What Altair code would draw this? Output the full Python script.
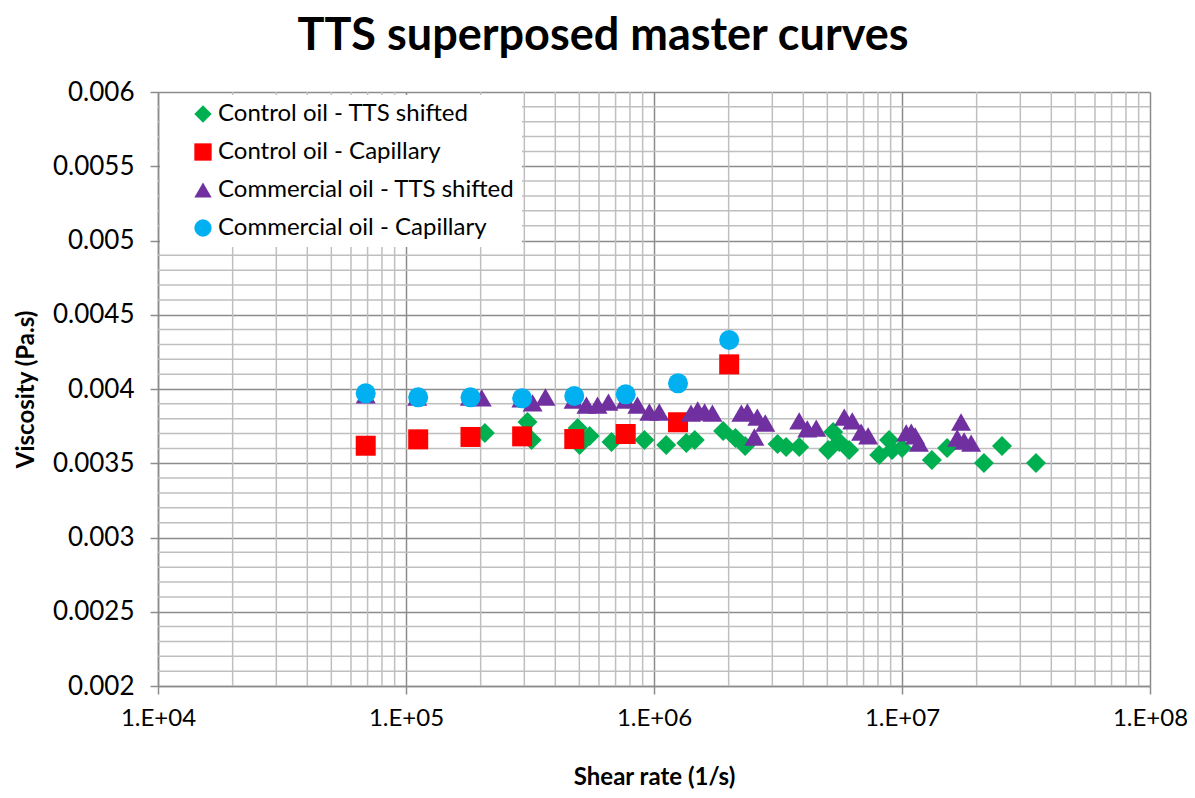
import altair as alt
import pandas as pd

series_names = ["Control oil - TTS shifted", "Control oil - Capillary",
                "Commercial oil - TTS shifted", "Commercial oil - Capillary"]
series_colors = ["#00B050", "#FF0000", "#7030A0", "#00B0F0"]
series_shapes = ["diamond", "square", "triangle-up", "circle"]

# Control oil - TTS shifted
ctrl_tts_x = [2.08e5, 3.09e5, 3.21e5, 4.92e5, 5.01e5, 5.50e5, 6.74e5, 9.15e5, 1.12e6, 1.35e6,
              1.46e6, 1.90e6, 2.13e6, 2.33e6, 3.15e6, 3.41e6, 3.85e6, 5.04e6, 5.28e6, 5.58e6,
              6.12e6, 8.09e6, 8.87e6, 9.12e6, 1.00e7, 1.32e7, 1.52e7, 2.14e7, 2.53e7, 3.47e7]
ctrl_tts_y = [0.003704, 0.003778, 0.003657, 0.003737, 0.003623, 0.003684, 0.003643, 0.003657,
              0.003623, 0.003636, 0.003657, 0.003717, 0.003670, 0.003616, 0.003630, 0.003609,
              0.003609, 0.003589, 0.003710, 0.003643, 0.003589, 0.003556, 0.003657, 0.003589,
              0.003603, 0.003522, 0.003603, 0.003502, 0.003616, 0.003502]

# Control oil - Capillary
ctrl_cap_x = [6.88e4, 1.12e5, 1.82e5, 2.94e5, 4.77e5, 7.69e5, 1.25e6, 2.01e6]
ctrl_cap_y = [0.003618, 0.003661, 0.003677, 0.003681, 0.003663, 0.003697, 0.003776, 0.004166]

# Commercial oil - TTS shifted
comm_tts_x = [6.88e4, 1.11e5, 1.81e5, 2.02e5, 2.92e5, 3.24e5, 3.65e5, 4.74e5, 5.34e5, 5.92e5,
              6.55e5, 7.67e5, 8.57e5, 9.58e5, 1.05e6, 1.41e6, 1.50e6, 1.60e6, 1.72e6, 2.25e6,
              2.38e6, 2.61e6, 2.81e6, 2.54e6, 3.85e6, 4.15e6, 4.51e6, 5.85e6, 6.30e6, 6.84e6,
              7.30e6, 1.04e7, 1.09e7, 1.13e7, 1.17e7, 1.73e7, 1.67e7, 1.78e7, 1.90e7]
comm_tts_y = [0.003960, 0.003946, 0.003946, 0.003940, 0.003933, 0.003906, 0.003946, 0.003926,
              0.003892, 0.003892, 0.003912, 0.003926, 0.003892, 0.003845, 0.003845, 0.003838,
              0.003859, 0.003845, 0.003838, 0.003838, 0.003845, 0.003811, 0.003771, 0.003677,
              0.003785, 0.003731, 0.003737, 0.003811, 0.003785, 0.003710, 0.003684, 0.003704,
              0.003710, 0.003684, 0.003636, 0.003778, 0.003670, 0.003650, 0.003636]

# Commercial oil - Capillary
comm_cap_x = [6.88e4, 1.12e5, 1.82e5, 2.94e5, 4.77e5, 7.69e5, 1.25e6, 2.01e6]
comm_cap_y = [0.003971, 0.003944, 0.003944, 0.003937, 0.003953, 0.003964, 0.004038, 0.004330]

x_major = [1e4, 1e5, 1e6, 1e7, 1e8]
y_major = [0.002, 0.0025, 0.003, 0.0035, 0.004, 0.0045, 0.005, 0.0055, 0.006]
x_minor = [k * d for d in [1e4, 1e5, 1e6, 1e7] for k in range(2, 10)]
y_minor = [round(0.002 + i * 0.0001, 4) for i in range(41) if i % 5 != 0]

FONT = "Lato"

rows = []
for name, xs, ys in zip(series_names,
                        [ctrl_tts_x, ctrl_cap_x, comm_tts_x, comm_cap_x],
                        [ctrl_tts_y, ctrl_cap_y, comm_tts_y, comm_cap_y]):
    for xv, yv in zip(xs, ys):
        rows.append({"x": xv, "y": yv, "series": name})
df = pd.DataFrame(rows)

xscale = alt.Scale(type="log", domain=[1e4, 1e8], nice=False)
yscale = alt.Scale(domain=[0.002, 0.006], nice=False, zero=False)

xaxis = alt.Axis(values=x_major, title="Shear rate (1/s)",
                 labelExpr="'1.E+0' + format(log(datum.value)/LN10, '.0f')",
                 grid=True, gridColor="#8c8c8c", gridWidth=1.5,
                 domainColor="#8c8c8c", domainWidth=1.5,
                 tickColor="#8c8c8c", tickWidth=1.5, tickSize=8,
                 labelFont=FONT, labelFontSize=24, labelColor="#000000", labelPadding=12,
                 labelFlush=False,
                 titleFont=FONT, titleFontSize=24, titleFontWeight="bold", titleColor="#000000",
                 titlePadding=35)
yaxis = alt.Axis(values=y_major, title="Viscosity (Pa.s)", format="~g",
                 grid=True, gridColor="#8c8c8c", gridWidth=1.5,
                 domainColor="#8c8c8c", domainWidth=1.5,
                 tickColor="#8c8c8c", tickWidth=1.5, tickSize=8,
                 labelFont=FONT, labelFontSize=26, labelColor="#000000", labelPadding=16,
                 labelFlush=False,
                 titleFont=FONT, titleFontSize=24, titleFontWeight="bold", titleColor="#000000",
                 titlePadding=14)

legend_spec = dict(orient="none", legendX=2, legendY=3, title=None,
                   fillColor="white", padding=7, symbolOffset=24,
                   labelFont=FONT, labelFontSize=24, labelColor="#000000",
                   symbolSize=300, rowPadding=14, labelOffset=3,
                   symbolStrokeWidth=0, labelLimit=400)

vgrid = alt.Chart(pd.DataFrame({"x": x_minor})).mark_rule(
    color="#bfbfbf", strokeWidth=1.5
).encode(x=alt.X("x:Q", scale=xscale, axis=xaxis))

hgrid = alt.Chart(pd.DataFrame({"y": y_minor})).mark_rule(
    color="#bfbfbf", strokeWidth=1.5
).encode(y=alt.Y("y:Q", scale=yscale, axis=yaxis))

points = alt.Chart(df).mark_point(filled=True, opacity=1, size=400, strokeWidth=0).encode(
    x=alt.X("x:Q", scale=xscale, axis=xaxis),
    y=alt.Y("y:Q", scale=yscale, axis=yaxis),
    color=alt.Color("series:N", scale=alt.Scale(domain=series_names, range=series_colors),
                    legend=alt.Legend(**legend_spec)),
    shape=alt.Shape("series:N", scale=alt.Scale(domain=series_names, range=series_shapes),
                    legend=alt.Legend(**legend_spec)),
)

chart = alt.layer(vgrid, hgrid, points).properties(
    width=992, height=594,
    title=alt.TitleParams("TTS superposed master curves", font=FONT, fontSize=45,
                          fontWeight="bold", color="#000000", anchor="middle",
                          dx=-51, offset=20),
    autosize=alt.AutoSizeParams(type="none"),
    padding={"left": 150, "top": 84, "right": 37, "bottom": 110},
).configure_view(stroke=None).configure(background="white")

chart.save("out.html", embed_options={"renderer": "svg", "actions": False})
